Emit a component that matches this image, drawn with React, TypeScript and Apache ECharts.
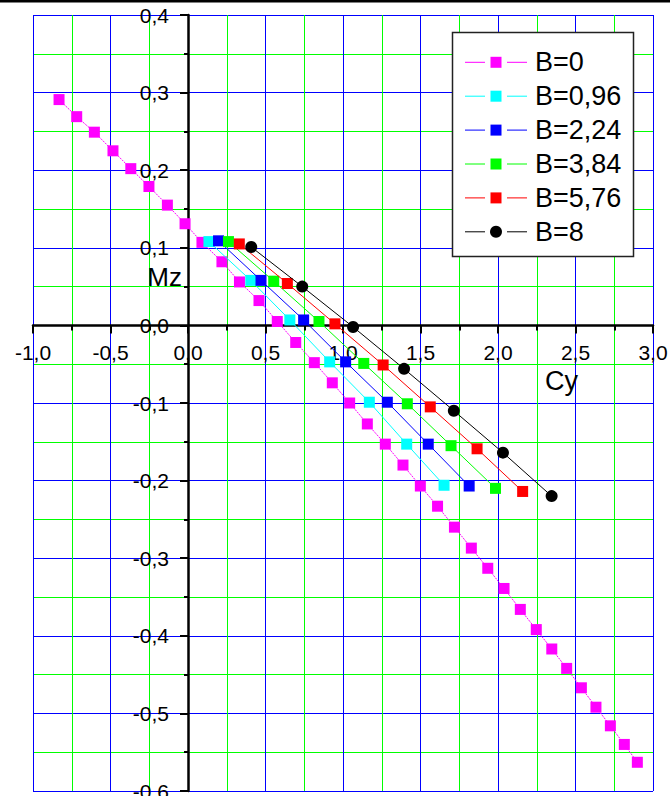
import React, { useEffect, useRef } from "react";
import * as echarts from "echarts";

// ---- data ----
const seriesNames = ["B=0", "B=0,96", "B=2,24", "B=3,84", "B=5,76", "B=8"];
const seriesColors = ["#ff00ff", "#00ffff", "#0000ff", "#00ff00", "#ff0000", "#000000"];

const b0Cy = [-0.832, -0.718, -0.604, -0.484, -0.369, -0.252, -0.133, -0.019, 0.09, 0.219, 0.332, 0.458, 0.576, 0.695, 0.815, 0.931, 1.043, 1.157, 1.273, 1.387, 1.499, 1.61, 1.719, 1.828, 1.934, 2.039, 2.144, 2.247, 2.347, 2.443, 2.538, 2.632, 2.725, 2.815, 2.899];
const b0Mz = [0.291, 0.269, 0.249, 0.225, 0.202, 0.179, 0.155, 0.131, 0.107, 0.082, 0.056, 0.032, 0.005, -0.022, -0.048, -0.074, -0.1, -0.127, -0.153, -0.18, -0.207, -0.233, -0.26, -0.287, -0.313, -0.339, -0.366, -0.392, -0.417, -0.442, -0.467, -0.492, -0.516, -0.54, -0.563];

const b096Cy = [0.135, 0.405, 0.657, 0.914, 1.17, 1.411, 1.652];
const b096Mz = [0.108, 0.058, 0.007, -0.047, -0.099, -0.153, -0.206];

const b224Cy = [0.197, 0.471, 0.746, 1.017, 1.286, 1.55, 1.814];
const b224Mz = [0.109, 0.058, 0.007, -0.047, -0.099, -0.153, -0.207];

const b384Cy = [0.261, 0.553, 0.845, 1.134, 1.415, 1.697, 1.984];
const b384Mz = [0.108, 0.057, 0.005, -0.049, -0.101, -0.155, -0.21];

const b576Cy = [0.331, 0.641, 0.948, 1.259, 1.563, 1.865, 2.159];
const b576Mz = [0.105, 0.054, 0.002, -0.051, -0.105, -0.159, -0.214];

const b8Cy = [0.408, 0.737, 1.065, 1.394, 1.715, 2.032, 2.346];
const b8Mz = [0.101, 0.05, -0.002, -0.056, -0.11, -0.164, -0.22];

const xData = [b0Cy, b096Cy, b224Cy, b384Cy, b576Cy, b8Cy];
const yData = [b0Mz, b096Mz, b224Mz, b384Mz, b576Mz, b8Mz];

const xAxisName = "Cy";
const yAxisName = "Mz";

const FONT = "'Liberation Sans', Arial, sans-serif";
const fmt = (v: number) => v.toFixed(1).replace(".", ",");

// layout of the plot area
const GL = 33, GT = 15, GW = 620, GH = 776;
const X_MIN = -1, X_MAX = 3, Y_MIN = -0.6, Y_MAX = 0.4;

export default function App() {
  const ref = useRef<HTMLDivElement>(null);
  useEffect(() => {
    if (!ref.current) return;
    const chart = echarts.init(ref.current, undefined, { renderer: "svg" });

    // offsets that put the axes through the origin
    const xAxisOffset = -(GH * (0 - Y_MIN)) / (Y_MAX - Y_MIN);
    const yAxisOffset = -(GW * (0 - X_MIN)) / (X_MAX - X_MIN);

    const series = seriesNames.map((name, i) => ({
      name,
      type: "line",
      data: xData[i].map((x, j) => [x, yData[i][j]]),
      symbol: i === 5 ? "circle" : "rect",
      symbolSize: i === 5 ? 12 : 11,
      showAllSymbol: true,
      itemStyle: { color: seriesColors[i] },
      lineStyle: {
        color: seriesColors[i],
        width: 1,
        type: i === 0 ? [2, 1] : "solid",
      },
      z: 3 + i,
    }));

    const legendGraphics: any[] = [
      {
        type: "rect",
        shape: { x: 452.5, y: 32.5, width: 181, height: 224 },
        style: { fill: "#fff", stroke: "#222", lineWidth: 1.5 },
        z: 100,
      },
    ];
    seriesNames.forEach((name, i) => {
      const cy = 62.3 + i * 33.9;
      const c = seriesColors[i];
      legendGraphics.push(
        { type: "line", shape: { x1: 465, y1: cy, x2: 485, y2: cy }, style: { stroke: c, lineWidth: 1 }, z: 101 },
        { type: "line", shape: { x1: 507, y1: cy, x2: 527, y2: cy }, style: { stroke: c, lineWidth: 1 }, z: 101 },
        i === 5
          ? { type: "circle", shape: { cx: 496, cy, r: 6 }, style: { fill: c }, z: 101 }
          : { type: "rect", shape: { x: 490.5, y: cy - 5.5, width: 11, height: 11 }, style: { fill: c }, z: 101 },
        {
          type: "text",
          x: 535,
          y: cy,
          style: { text: name, fill: "#000", font: `27px ${FONT}`, textVerticalAlign: "middle", verticalAlign: "middle" },
          z: 101,
        }
      );
    });

    const axisCommon = {
      type: "value",
      axisTick: { show: true, length: 8, lineStyle: { color: "#000", width: 2 } },
      splitLine: { show: true, showMinLine: true, showMaxLine: true, lineStyle: { color: "#0000ff", width: 1 } },
      minorSplitLine: { show: true, lineStyle: { color: "#00ff00", width: 1 } },
    };

    chart.setOption({
      animation: false,
      backgroundColor: "#fff",
      grid: { left: GL, top: GT, width: GW, height: GH, containLabel: false, outerBoundsMode: "none" },
      xAxis: {
        ...axisCommon,
        min: X_MIN,
        max: X_MAX,
        interval: 0.5,
        position: "bottom",
        offset: xAxisOffset,
        axisLine: { onZero: false, lineStyle: { color: "#000", width: 2.5 } },
        minorTick: { show: true, splitNumber: 2, length: 5, lineStyle: { color: "#000", width: 2 } },
        axisLabel: {
          formatter: fmt,
          color: "#000",
          fontSize: 21,
          fontFamily: FONT,
          margin: 17,
          showMinLabel: true,
          showMaxLabel: true,
          hideOverlap: false,
        },
      },
      yAxis: {
        ...axisCommon,
        min: Y_MIN,
        max: Y_MAX,
        interval: 0.1,
        position: "left",
        offset: yAxisOffset,
        axisLine: { onZero: false, lineStyle: { color: "#000", width: 2.5 } },
        minorTick: { show: true, splitNumber: 2, length: 4, lineStyle: { color: "#000", width: 2 } },
        axisLabel: {
          formatter: fmt,
          color: "#000",
          fontSize: 21,
          fontFamily: FONT,
          margin: 19,
          showMinLabel: true,
          showMaxLabel: true,
          hideOverlap: false,
        },
      },
      series,
      graphic: [
        { type: "rect", shape: { x: 0, y: 0, width: 670, height: 2.5 }, style: { fill: "#000" }, z: 100 },
        {
          type: "text",
          x: 182,
          y: 277,
          style: { text: yAxisName, fill: "#000", font: `26px ${FONT}`, align: "right", textAlign: "right", verticalAlign: "middle", textVerticalAlign: "middle" },
          z: 100,
        },
        {
          type: "text",
          x: 545,
          y: 381,
          style: { text: xAxisName, fill: "#000", font: `27px ${FONT}`, verticalAlign: "middle", textVerticalAlign: "middle" },
          z: 100,
        },
        ...legendGraphics,
      ],
    });
    return () => chart.dispose();
  }, []);
  return <div ref={ref} style={{ position: "absolute", left: 0, top: 0, width: 672, height: 796 }} />;
}
